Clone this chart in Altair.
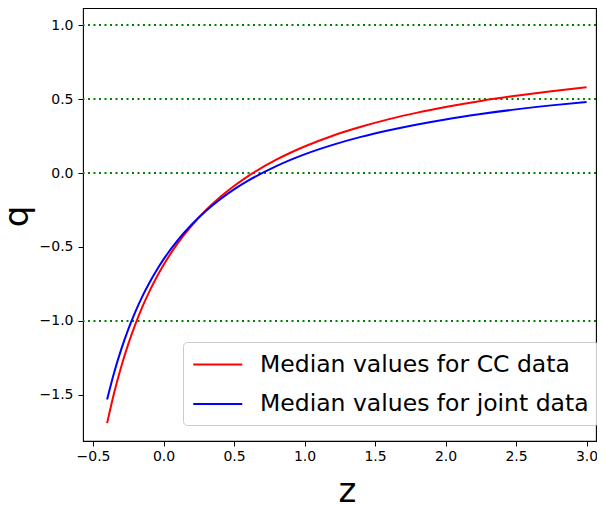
import altair as alt
import pandas as pd

# Values
z_vals = [-0.40, -0.35, -0.30, -0.25, -0.20, -0.15, -0.10, -0.05, 0.00, 0.10, 0.20,
          0.30, 0.40, 0.50, 0.60, 0.80, 1.00, 1.20, 1.40, 1.60, 1.80, 2.00, 2.25,
          2.50, 2.75, 3.00]
q_cc = [-1.690, -1.485, -1.309, -1.156, -1.023, -0.905, -0.800, -0.706, -0.622,
        -0.476, -0.355, -0.252, -0.164, -0.088, -0.021, 0.090, 0.179, 0.252, 0.312,
        0.364, 0.408, 0.446, 0.487, 0.522, 0.553, 0.580]
q_joint = [-1.530, -1.348, -1.192, -1.057, -0.939, -0.834, -0.742, -0.659, -0.584,
           -0.455, -0.348, -0.257, -0.179, -0.111, -0.052, 0.047, 0.126, 0.190,
           0.244, 0.289, 0.328, 0.362, 0.398, 0.430, 0.457, 0.480]
hlines = [1.0, 0.5, 0.0, -1.0]
series_names = ["Median values for CC data", "Median values for joint data"]
series_colors = ["#ff0000", "#0000ff"]
x_ticks = [-0.5, 0.0, 0.5, 1.0, 1.5, 2.0, 2.5, 3.0]
y_ticks = [-1.5, -1.0, -0.5, 0.0, 0.5, 1.0]

rows = []
for name, vals in zip(series_names, [q_cc, q_joint]):
    for z, q in zip(z_vals, vals):
        rows.append({"z": z, "q": q, "series": name})
df = pd.DataFrame(rows)
df_h = pd.DataFrame({"y": hlines})

W, H = 513, 433
x_scale = alt.Scale(domain=[-0.571, 3.067], nice=False, zero=False)
y_scale = alt.Scale(domain=[-1.811, 1.115], nice=False, zero=False)
minus = "replace(datum.label, '-', '\u2212')"

rules = alt.Chart(df_h).mark_rule(
    color="#008000", strokeWidth=2, strokeDash=[2, 3.5]
).encode(y=alt.Y("y:Q", scale=y_scale))

lines = alt.Chart(df).mark_line(strokeWidth=2, interpolate="monotone").encode(
    x=alt.X("z:Q", scale=x_scale,
            axis=alt.Axis(values=x_ticks, format=".1f", labelExpr=minus, title="z",
                          titleX=264, titleY=60, titleAlign="center",
                          titleBaseline="alphabetic", labelPadding=3)),
    y=alt.Y("q:Q", scale=y_scale,
            axis=alt.Axis(values=y_ticks, format=".1f", labelExpr=minus, title="q",
                          titleX=-56, titleY=208, titleAngle=270, titleAlign="center",
                          titleBaseline="alphabetic", labelPadding=5)),
    color=alt.Color("series:N",
                    scale=alt.Scale(domain=series_names, range=series_colors),
                    legend=alt.Legend(title=None, orient="none", legendX=100,
                                      legendY=334, symbolType="M-1,0H3",
                                      symbolSize=600, symbolStrokeWidth=2,
                                      symbolFillColor="transparent",
                                      labelFontSize=23.5, labelColor="black",
                                      labelOffset=41, rowPadding=14.5, padding=9,
                                      fillColor="rgba(255,255,255,0.8)",
                                      strokeColor="#cccccc", cornerRadius=4,
                                      labelLimit=500)),
    detail="series:N",
)

chart = alt.layer(rules, lines).properties(
    width=W, height=H, autosize="none",
    padding={"left": 75, "top": 0, "right": 1, "bottom": 61},
).configure(font="DejaVu Sans").configure_view(
    stroke="black", strokeWidth=1.1
).configure_axis(
    labelFontSize=14, labelColor="black", labelFont="DejaVu Sans",
    tickColor="black", tickSize=5, tickWidth=1, domain=False, grid=False,
    titleFontSize=34, titleFontWeight="normal", titleColor="black",
    titleFont="DejaVu Sans",
)

chart.save("out.html", embed_options={"renderer": "svg", "actions": False})
